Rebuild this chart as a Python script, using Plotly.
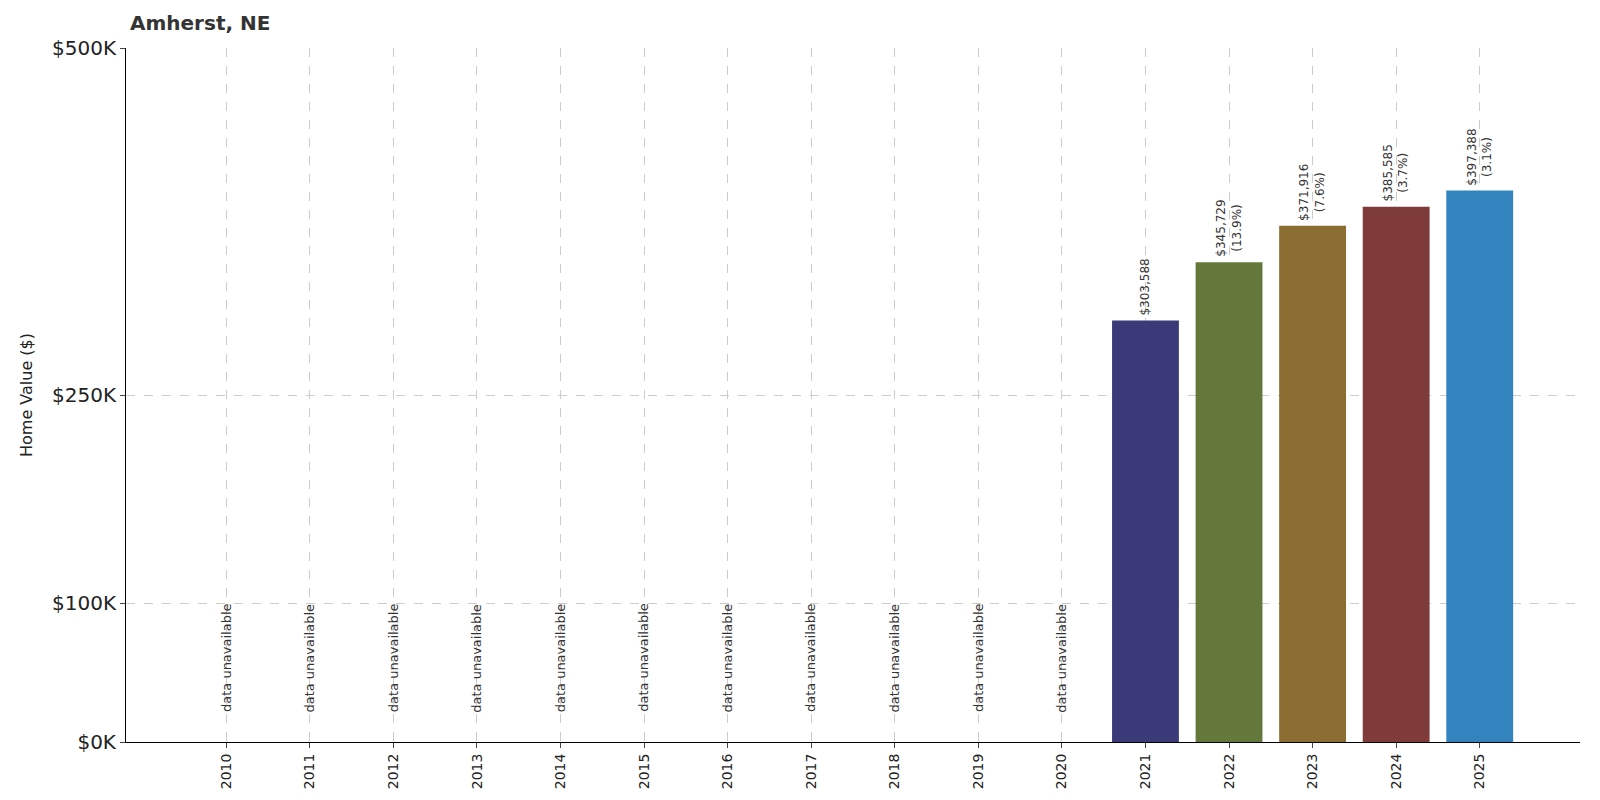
import plotly.graph_objects as go

years = [str(y) for y in range(2010, 2026)]
values = [None]*11 + [303588, 345729, 371916, 385585, 397388]
changes = [None]*12 + ["13.9%", "7.6%", "3.7%", "3.1%"]
colors = ["#3b3a78"]*12 + ["#63783a", "#8b6d32", "#7f3a3a", "#3383be"]
ytickvals = [0, 100000, 250000, 500000]
yticktext = ["$0K", "$100K", "$250K", "$500K"]

fig = go.Figure(go.Bar(x=years, y=[v if v else 0 for v in values], marker_color=colors,
                       width=0.8, marker_line_width=0))
for i, (yr, v) in enumerate(zip(years, values)):
    if v is None:
        fig.add_annotation(x=i, y=20000, text="data unavailable", textangle=-90,
                           showarrow=False, yanchor="bottom", font=dict(size=13, color="#333"))
    else:
        t = f"${v:,}" + (f"<br>({changes[i]})" if changes[i] else "")
        fig.add_annotation(x=i, y=v, text=t, textangle=-90, showarrow=False,
                           yanchor="bottom", yshift=3, font=dict(size=12, color="#333"))

fig.update_layout(
    width=1600, height=800, plot_bgcolor="white", paper_bgcolor="white",
    margin=dict(l=118, r=28, t=40, b=66),
    font=dict(family="DejaVu Sans", color="#222"),
    title=dict(text="<b>Amherst, NE</b>", x=122/1600, xanchor="left", y=0.99, yanchor="top",
               font=dict(size=20, color="#333")),
    showlegend=False,
)
fig.update_xaxes(type="category", range=[-1.2, 16.2], tickangle=-90, tickfont=dict(size=14),
                 showgrid=True, gridcolor="#cccccc", griddash="dash",
                 showline=True, linecolor="black", ticks="outside")
fig.update_yaxes(range=[0, 500000], tickvals=ytickvals, ticktext=yticktext,
                 tickfont=dict(size=20), title=dict(text="Home Value ($)", font=dict(size=16)),
                 showgrid=True, gridcolor="#cccccc", griddash="dash",
                 showline=True, linecolor="black", ticks="outside", zeroline=False)
fig.write_html("out.html")
